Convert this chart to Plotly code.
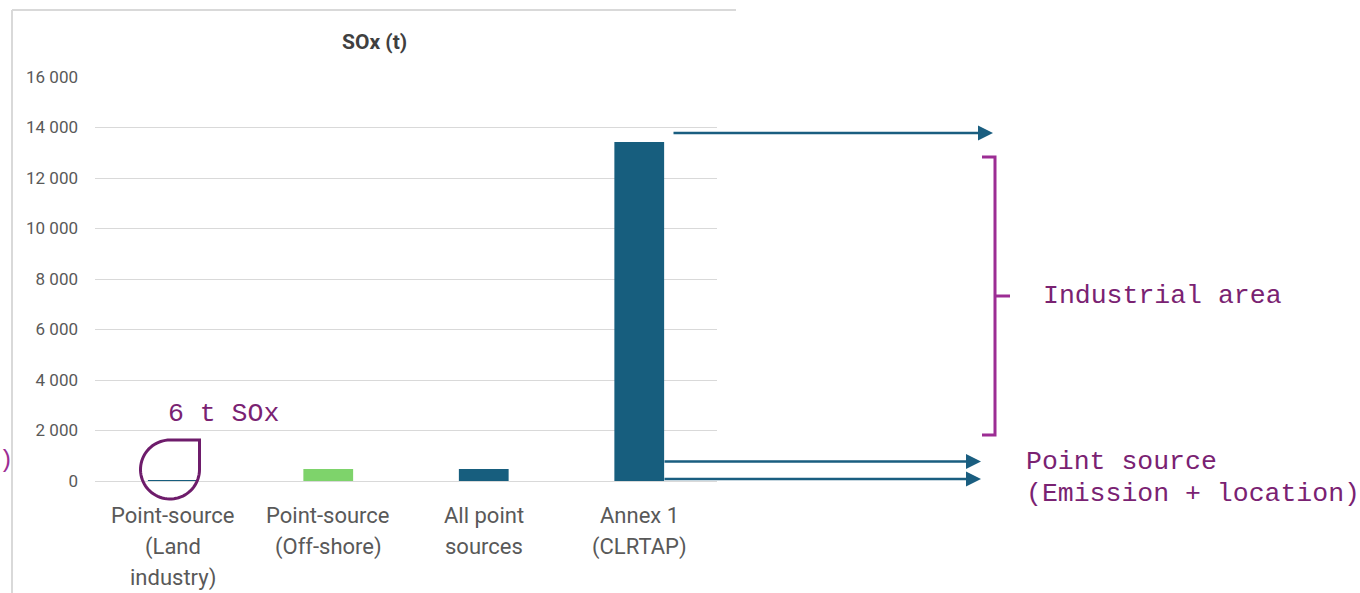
import numpy as np
import plotly.graph_objects as go

# ---------------- data ----------------
categories = ["Point-source (Land industry)", "Point-source (Off-shore)",
              "All point sources", "Annex 1 (CLRTAP)"]
tick_label_lines = [["Point-source", "(Land", "industry)"],
                    ["Point-source", "(Off-shore)"],
                    ["All point", "sources"],
                    ["Annex 1", "(CLRTAP)"]]
sox_values = [6, 475, 478, 13430]
bar_colors = ["#175e7e", "#7ed36b", "#175e7e", "#175e7e"]
y_ticks = [0, 2000, 4000, 6000, 8000, 10000, 12000, 14000, 16000]
title_text = "SOx (t)"
note_small = "6 t SOx"
note_industrial = "Industrial area"
note_point = ["Point source", "(Emission + location)"]

# ---------------- layout geometry (pixels) ----------------
W, H = 1360, 593
L, R, T, B = 95, 717, 77, 481   # plot area in pixels


def px(xp):
    return (xp - L) / (R - L)


def py(yp):
    return (B - yp) / (B - T)


fig = go.Figure()
fig.add_trace(go.Bar(x=categories, y=sox_values, marker_color=bar_colors,
                     marker_line_width=0, width=0.32, hoverinfo="skip",
                     showlegend=False))

grey = "#595959"
purple_txt = "#7a2272"
purple_line = "#9c2d94"
teal = "#1a5e80"

annotations = []
# category labels, line by line
for cat, lines in zip(categories, tick_label_lines):
    for i, line in enumerate(lines):
        annotations.append(dict(x=cat, xref="x", y=0, yref="paper",
                                text=line, showarrow=False, yanchor="middle",
                                yshift=-34 - 31.5 * i,
                                font=dict(family="Roboto", size=22, color=grey)))

# title centred on the chart frame
annotations.append(dict(x=px(374), y=py(42), xref="paper", yref="paper",
                        text=title_text, showarrow=False, xanchor="center",
                        yanchor="middle",
                        font=dict(family="Roboto", size=21, color="#404040",
                                  weight="bold")))

mono = "Liberation Mono"
msize = 26.5
annotations.append(dict(x=px(166), y=py(414), xref="paper", yref="paper",
                        text=note_small, showarrow=False, xanchor="left",
                        yanchor="middle",
                        font=dict(family=mono, size=msize, color=purple_txt)))
annotations.append(dict(x=px(1041), y=py(296), xref="paper", yref="paper",
                        text=note_industrial, showarrow=False, xanchor="left",
                        yanchor="middle",
                        font=dict(family=mono, size=msize, color=purple_txt)))
for i, line in enumerate(note_point):
    annotations.append(dict(x=px(1024), y=py(462 + 32 * i), xref="paper",
                            yref="paper", text=line, showarrow=False,
                            xanchor="left", yanchor="middle",
                            font=dict(family=mono, size=msize, color=purple_txt)))
annotations.append(dict(x=px(6), y=py(460), xref="paper", yref="paper",
                        text=")", showarrow=False, xanchor="center",
                        yanchor="middle",
                        font=dict(family=mono, size=24, color=purple_line)))

# arrows
for (x0, x1, y) in [(672, 993, 133), (663, 981, 461.5), (663, 981, 479)]:
    annotations.append(dict(x=px(x1), y=py(y), xref="paper", yref="paper",
                            ax=-(x1 - x0), ay=0, text="", showarrow=True,
                            arrowhead=2, arrowsize=1.2, arrowwidth=2.5,
                            arrowcolor=teal, standoff=0))

shapes = []
# chart frame (top and left edges)
frame_col = "#d9d9d9"
shapes.append(dict(type="line", xref="paper", yref="paper", x0=px(12),
                   x1=px(736), y0=py(10), y1=py(10),
                   line=dict(color=frame_col, width=2)))
shapes.append(dict(type="line", xref="paper", yref="paper", x0=px(12),
                   x1=px(12), y0=py(10), y1=py(600),
                   line=dict(color=frame_col, width=2)))

# curly bracket
br = [(982, 157), (995, 157), (995, 435), (982, 435)]
path = "M " + " L ".join(f"{px(a):.5f},{py(b):.5f}" for a, b in br)
shapes.append(dict(type="path", xref="paper", yref="paper", path=path,
                   line=dict(color=purple_line, width=3)))
shapes.append(dict(type="line", xref="paper", yref="paper", x0=px(995),
                   x1=px(1010), y0=py(296), y1=py(296),
                   line=dict(color=purple_line, width=3)))

# teardrop marker around the tiny bar
cx, cy, r = 170, 469.5, 29.5
th = np.linspace(np.pi / 2, 2 * np.pi, 60)
pts = [(cx + r * np.cos(t), cy - r * np.sin(t)) for t in th]
pts = [(cx + r, cy - r)] + pts + [(cx + r, cy - r)]
tpath = "M " + " L ".join(f"{px(a):.5f},{py(b):.5f}" for a, b in pts) + " Z"
shapes.append(dict(type="path", xref="paper", yref="paper", path=tpath,
                   line=dict(color="#6e1c6b", width=3)))

fig.update_layout(
    width=W, height=H,
    margin=dict(l=L, r=W - R, t=T, b=H - B, pad=0),
    paper_bgcolor="white", plot_bgcolor="white",
    separators=". ",
    xaxis=dict(showticklabels=False, showgrid=False, zeroline=False,
               showline=False, ticks="", fixedrange=True),
    yaxis=dict(range=[0, 16000], tickvals=y_ticks, tickformat=",d",
               showgrid=True, gridcolor="#d9d9d9", gridwidth=1,
               zeroline=True, zerolinecolor="#d9d9d9", zerolinewidth=1,
               showline=False, ticks="", ticklabelstandoff=16,
               tickfont=dict(family="Roboto", size=17, color=grey),
               fixedrange=True),
    annotations=annotations, shapes=shapes,
    showlegend=False,
)

fig.write_html("out.html")
